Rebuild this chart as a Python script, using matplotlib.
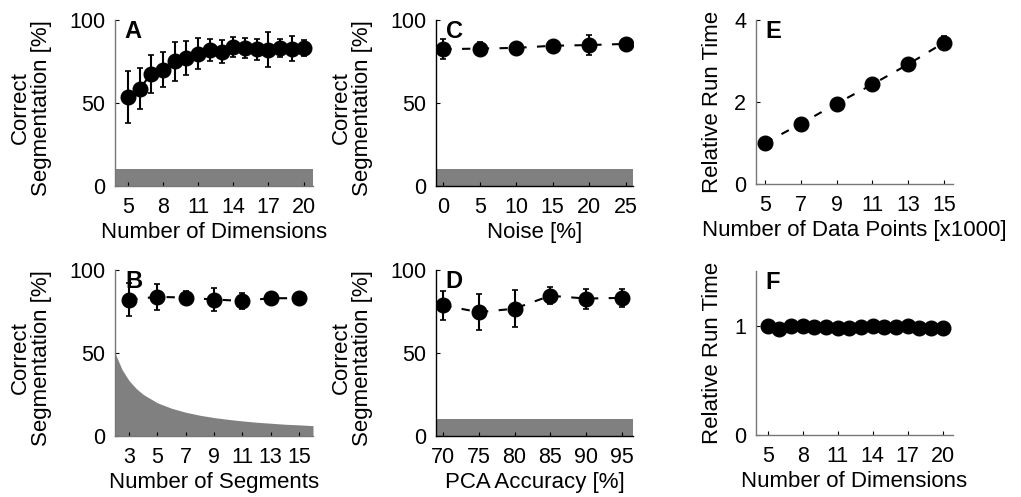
import numpy as np
import matplotlib
matplotlib.use('Agg')
import matplotlib.pyplot as plt

plt.rcParams['font.family'] = ['Liberation Sans', 'DejaVu Sans']
plt.rcParams['font.size'] = 15.5

# A: number of dimensions
dims = [5, 6, 7, 8, 9, 10, 11, 12, 13, 14, 15, 16, 17, 18, 19, 20]
a_mean = [53.6, 58.7, 67.5, 70.1, 75.0, 77.1, 79.8, 81.8, 80.8, 83.8, 83.2, 82.4, 82.2, 83.2, 82.8, 83.2]
a_err = [15.5, 12.5, 11.4, 10.5, 11.8, 10.0, 9.2, 6.5, 6.9, 5.9, 6.2, 6.3, 10.5, 5.2, 7.5, 5.0]

# B: number of segments
segs = [3, 5, 7, 9, 11, 13, 15]
b_mean = [82.2, 83.8, 83.4, 82.2, 81.4, 83.0, 83.0]
b_err = [10.0, 8.0, 4.0, 7.0, 5.0, 2.0, 2.0]
# chance level
b_chance_x = [2, 2.5, 3, 3.5, 4, 5, 6, 7, 8, 9, 10, 11, 12, 13, 14, 15, 16]
b_chance_y = [50, 40, 33.3, 28.6, 25, 20, 16.7, 14.3, 12.5, 11.1, 10, 9.1, 8.3, 7.7, 7.1, 6.7, 6.25]

# C: noise
noise = [0, 5, 10, 15, 20, 25]
c_mean = [82.4, 82.8, 83.2, 84.5, 84.9, 85.6]
c_err = [6.0, 4.0, 2.0, 3.0, 6.0, 2.0]

# D: PCA accuracy
pca = [70, 75, 80, 85, 90, 95]
d_mean = [78.7, 74.6, 76.7, 84.5, 82.8, 83.2]
d_err = [8.7, 11.0, 11.0, 5.0, 6.0, 5.5]

# E: run time vs data points
npts = [5, 7, 9, 11, 13, 15]
e_mean = [1.0, 1.47, 1.96, 2.43, 2.92, 3.45]
e_err = [0.05, 0.05, 0.05, 0.05, 0.05, 0.15]

# F: run time vs dimensions
f_mean = [1.0, 0.97, 1.0, 1.0, 0.99, 0.99, 0.98, 0.98, 0.99, 1.0, 0.99, 0.99, 1.0, 0.98, 0.98, 0.98]
f_err = [0.04] * 16

chance = 10
gray = '#808080'

fig = plt.figure(figsize=(10.21, 4.97), dpi=100)

W, H = 1021, 497
def add_ax(left, top, w, h):
    return fig.add_axes([left / W, (H - top - h) / H, w / W, h / H])

axA = add_ax(115, 20, 198, 166)
axB = add_ax(115, 270, 198, 166)
axC = add_ax(436, 20, 197, 166)
axD = add_ax(436, 270, 197, 166)
axE = add_ax(756, 20, 197, 164)
axF = add_ax(756, 271, 197, 164)


def draw(ax, x, m, e, letter, spine_col):
    ax.errorbar(x, m, yerr=e, fmt='o', color='k', ms=10.5, elinewidth=1.5,
                capsize=2, capthick=1.2, ls=(0, (4, 5)), lw=1.5, zorder=3)
    for s in ['top', 'right']:
        ax.spines[s].set_visible(False)
    for s in ['left', 'bottom']:
        ax.spines[s].set_color(spine_col)
        ax.spines[s].set_linewidth(1.0)
    ax.tick_params(direction='in', length=3, width=0.8, color='k')
    ax.tick_params(axis='x', pad=8)
    ax.tick_params(axis='y', pad=7)
    ax.text(0.05, 1.0, letter, transform=ax.transAxes, fontweight='bold',
            fontsize=17, va='top', ha='left')


seg_label = 'Correct\nSegmentation [%]'


def seg_axis(ax, xlabel):
    ax.set_ylim(0, 100)
    ax.set_yticks([0, 50, 100])
    ax.set_xlabel(xlabel, fontsize=16, labelpad=3)
    ax.set_ylabel(seg_label, linespacing=1.0, fontsize=16)
    ax.yaxis.set_label_coords(-0.32, 0.47)


draw(axA, dims, a_mean, a_err, 'A', '#777777')
axA.axhspan(0, chance, color=gray, lw=0, zorder=1)
axA.set_xlim(3.9, 20.8)
axA.set_xticks([5, 8, 11, 14, 17, 20])
seg_axis(axA, 'Number of Dimensions')

draw(axB, segs, b_mean, b_err, 'B', '#777777')
axB.fill_between(b_chance_x, 0, b_chance_y, color=gray, lw=0, zorder=1)
axB.set_xlim(2, 16)
axB.set_xticks(segs)
seg_axis(axB, 'Number of Segments')

draw(axC, noise, c_mean, c_err, 'C', 'k')
axC.axhspan(0, chance, color=gray, lw=0, zorder=1)
axC.set_xlim(-1, 26)
axC.set_xticks(noise)
seg_axis(axC, 'Noise [%]')

draw(axD, pca, d_mean, d_err, 'D', 'k')
axD.axhspan(0, chance, color=gray, lw=0, zorder=1)
axD.set_xlim(69, 96.6)
axD.set_xticks(pca)
seg_axis(axD, 'PCA Accuracy [%]')

draw(axE, npts, e_mean, e_err, 'E', '#777777')
axE.set_xlim(4.5, 15.5)
axE.set_ylim(0, 4)
axE.set_xticks(npts)
axE.set_yticks([0, 2, 4])
axE.set_xlabel('Number of Data Points [x1000]', fontsize=16, labelpad=3)
axE.set_ylabel('Relative Run Time', fontsize=16)
axE.yaxis.set_label_coords(-0.17, 0.5)

draw(axF, dims, f_mean, f_err, 'F', '#777777')
axF.set_xlim(4.0, 20.9)
axF.set_ylim(0, 1.5)
axF.set_xticks([5, 8, 11, 14, 17, 20])
axF.set_yticks([0, 1])
axF.set_xlabel('Number of Dimensions', fontsize=16, labelpad=3)
axF.set_ylabel('Relative Run Time', fontsize=16)
axF.yaxis.set_label_coords(-0.17, 0.5)

fig.savefig('out.png', dpi=100)
